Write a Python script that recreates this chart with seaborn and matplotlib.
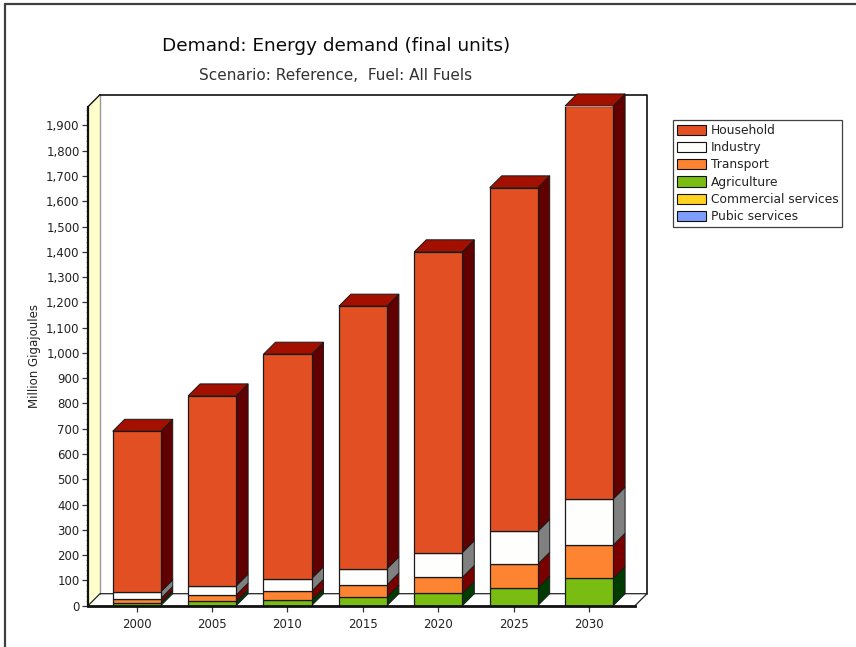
import numpy as np
import pandas as pd
import matplotlib
matplotlib.use("Agg")
import matplotlib.pyplot as plt
import seaborn as sns
from matplotlib.patches import Polygon, Patch
from matplotlib.lines import Line2D
from matplotlib.ticker import MultipleLocator, FuncFormatter

# ---- data (Million Gigajoules) ----
years = ["2000", "2005", "2010", "2015", "2020", "2025", "2030"]
public_services = [0, 0, 0, 0, 0, 0, 0]
commercial_services = [0, 0, 0, 0, 0, 0, 0]
agriculture = [12, 17, 21, 33, 49, 69, 108]
transport = [16, 25, 36, 49, 63, 95, 131]
industry = [27, 36, 50, 64, 98, 130, 183]
household = [635, 752, 888, 1039, 1190, 1359, 1555]

# stacking order, bottom to top: (label, values, front colour, side colour)
layers = [
    ("Pubic services", public_services, "#7E9EFF", "#20307A"),
    ("Commercial services", commercial_services, "#FFD320", "#7A6000"),
    ("Agriculture", agriculture, "#7ABD12", "#003C00"),
    ("Transport", transport, "#FF8431", "#7A0000"),
    ("Industry", industry, "#FEFEFC", "#808080"),
    ("Household", household, "#E24F22", "#600000"),
]
top_colour = "#A31000"
legend_order = ["Household", "Industry", "Transport", "Agriculture",
                "Commercial services", "Pubic services"]

W, H, DPI = 856, 647, 100
sns.set_theme(style="white")
plt.rcParams["font.family"] = ["DejaVu Sans"]

fig = plt.figure(figsize=(W / DPI, H / DPI), dpi=DPI)
fig.patch.set_facecolor("white")

# axes frame in pixels (front plane)
ax_l, ax_r, ax_t, ax_b = 88, 635, 106.7, 605.7
ax = fig.add_axes([ax_l / W, 1 - ax_b / H, (ax_r - ax_l) / W, (ax_b - ax_t) / H])
ax.set_facecolor("none")

xmin, xmax = -0.646, 6.609
ymin, ymax = 0, 1974
depth_px = 12
dx = depth_px * (xmax - xmin) / (ax_r - ax_l)
dy = depth_px * (ymax - ymin) / (ax_b - ax_t)
bar_w = 0.637

# ---- stacked bars ----
bottom = np.zeros(len(years))
for label, vals, front, side in layers:
    vals = np.asarray(vals, dtype=float)
    n0 = len(ax.patches)
    sns.barplot(x=years, y=vals, bottom=bottom, color=front, width=bar_w,
                errorbar=None, edgecolor="#1a1a1a", linewidth=0.9,
                saturation=1, ax=ax, zorder=3)
    for p in ax.patches[n0:]:
        x0, w = p.get_x(), p.get_width()
        y0, h = p.get_y(), p.get_height()
        if h <= 0:
            p.set_linewidth(0)
            continue
        xr = x0 + w
        side_poly = Polygon([(xr, y0), (xr + dx, y0 + dy), (xr + dx, y0 + h + dy), (xr, y0 + h)],
                            closed=True, facecolor=side, edgecolor="#1a1a1a",
                            linewidth=0.7, zorder=2.9, clip_on=False)
        ax.add_patch(side_poly)
    bottom = bottom + vals

# top faces on the highest segment
for i, total in enumerate(bottom):
    x0 = i - bar_w / 2
    xr = i + bar_w / 2
    ax.add_patch(Polygon([(x0, total), (x0 + dx, total + dy), (xr + dx, total + dy), (xr, total)],
                         closed=True, facecolor=top_colour, edgecolor="#1a1a1a",
                         linewidth=0.7, zorder=2.9, clip_on=False))

# ---- walls and floor ----
ax.add_patch(Polygon([(xmin + dx, dy), (xmax + dx, dy), (xmax + dx, ymax + dy), (xmin + dx, ymax + dy)],
                     closed=True, facecolor="white", edgecolor="none", zorder=0.2, clip_on=False))
ax.plot([xmin + dx, xmax + dx, xmax + dx], [ymax + dy, ymax + dy, dy],
        color="#111111", lw=1.2, zorder=0.6, clip_on=False)
ax.add_patch(Polygon([(xmin, 0), (xmin + dx, dy), (xmin + dx, ymax + dy), (xmin, ymax)],
                     closed=True, facecolor="#FFFFCC", edgecolor="none", zorder=0.3, clip_on=False))
ax.plot([xmin + dx, xmin + dx], [dy, ymax + dy], color="#999999", lw=1.0, zorder=0.5, clip_on=False)
ax.plot([xmin, xmin + dx], [ymax, ymax + dy], color="#111111", lw=1.0, zorder=0.6, clip_on=False)
ax.add_patch(Polygon([(xmin, 0), (xmax, 0), (xmax + dx, dy), (xmin + dx, dy)],
                     closed=True, facecolor="white", edgecolor="none", zorder=0.4, clip_on=False))
ax.plot([xmin, xmin + dx, xmax + dx, xmax], [0, dy, dy, 0],
        color="#222222", lw=0.9, zorder=0.6, clip_on=False)

ax.set_xlim(xmin, xmax)
ax.set_ylim(ymin, ymax)

# ---- axes styling ----
for s in ["top", "right"]:
    ax.spines[s].set_visible(False)
ax.spines["left"].set_color("#111111")
ax.spines["left"].set_linewidth(1.6)
ax.spines["bottom"].set_color("#111111")
ax.spines["bottom"].set_linewidth(2.0)
ax.spines["left"].set_zorder(5)
ax.spines["bottom"].set_zorder(5)

ax.yaxis.set_major_locator(MultipleLocator(100))
ax.yaxis.set_minor_locator(MultipleLocator(20))
ax.yaxis.set_major_formatter(FuncFormatter(lambda v, p: f"{int(v):,}"))
ax.tick_params(axis="y", which="major", direction="out", length=4, width=0.9,
               color="#333333", labelsize=8.5, labelcolor="#222222", pad=2, left=True)
ax.tick_params(axis="y", which="minor", direction="out", length=1.5, width=0.5,
               color="#777777", left=True)
ax.tick_params(axis="x", which="major", direction="out", length=4, width=0.9,
               color="#333333", labelsize=8.5, labelcolor="#222222", pad=5, bottom=True)
ax.set_xlabel("")
ax.set_ylabel("Million Gigajoules", fontsize=8.5, color="#222222", labelpad=4)
ax.grid(False)

# ---- titles ----
fig.text(336 / W, 1 - 46 / H, "Demand: Energy demand (final units)",
         ha="center", va="center", fontsize=13.3, color="#0a0a0a")
fig.text(336 / W, 1 - 76 / H, "Scenario: Reference,  Fuel: All Fuels",
         ha="center", va="center", fontsize=11, color="#333333")

# ---- legend ----
colour_of = {lab: fr for lab, _, fr, _ in layers}
handles = [Patch(facecolor=colour_of[l], edgecolor="#111111", linewidth=0.8) for l in legend_order]
leg = fig.legend(handles, legend_order, loc="upper left",
                 bbox_to_anchor=(673 / W, 1 - 120 / H), bbox_transform=fig.transFigure,
                 fontsize=8.8, frameon=True, fancybox=False, borderaxespad=0,
                 handlelength=2.35, handleheight=0.9, handletextpad=0.4,
                 labelspacing=0.35, borderpad=0.32)
leg.get_frame().set_edgecolor("#111111")
leg.get_frame().set_linewidth(0.9)
for t in leg.get_texts():
    t.set_color("#222222")

# ---- outer frame lines ----
fig.add_artist(Line2D([5 / W, 1], [1 - 4 / H, 1 - 4 / H], transform=fig.transFigure,
                      color="#404040", lw=1.6))
fig.add_artist(Line2D([5 / W, 5 / W], [0, 1 - 4 / H], transform=fig.transFigure,
                      color="#404040", lw=1.6))

fig.savefig("out.png", dpi=DPI, facecolor="white")
